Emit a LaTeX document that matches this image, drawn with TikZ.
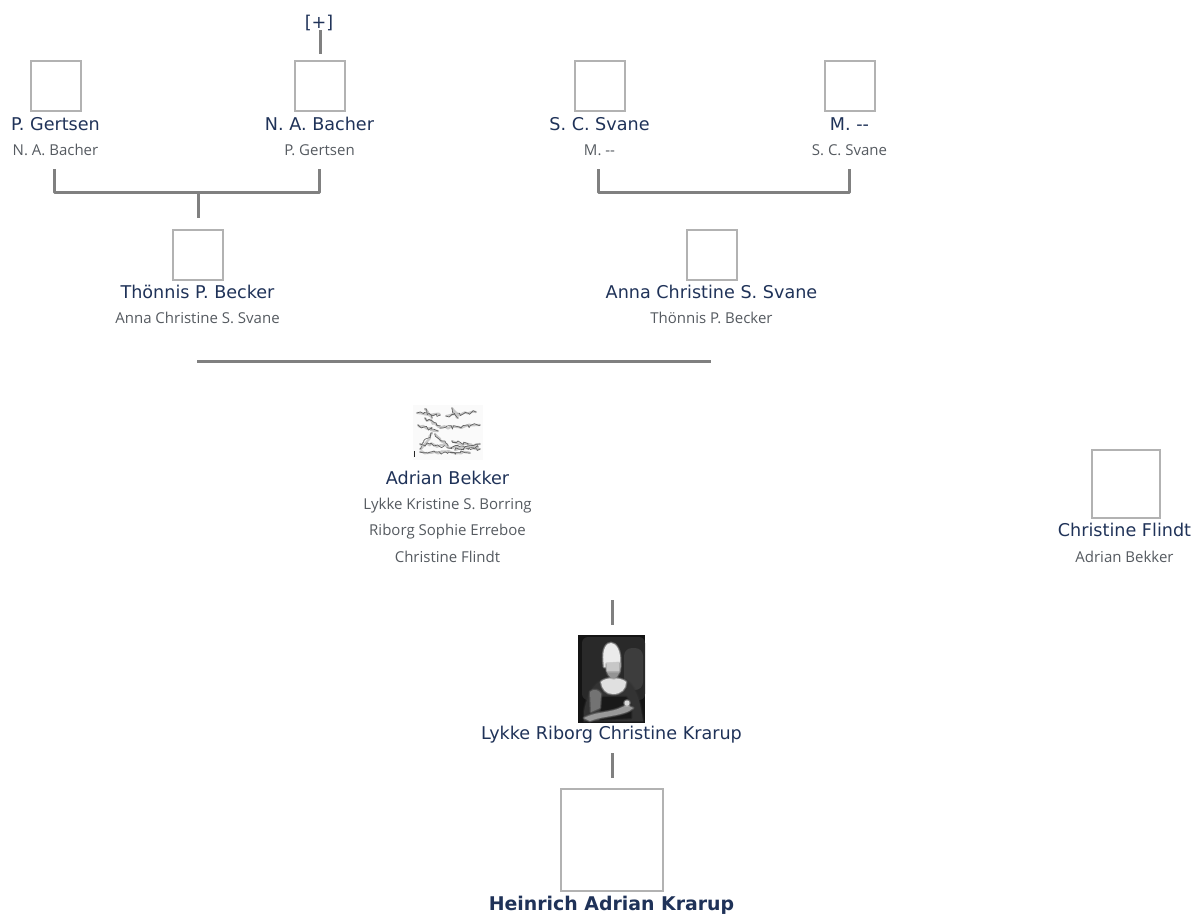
\documentclass[tikz,border=0pt]{standalone}
\usepackage{fontspec}
\setmainfont{DejaVu Sans}
\newfontfamily\smallfont{Open Sans}
\usetikzlibrary{decorations.pathmorphing}
\definecolor{namecol}{HTML}{1F3258}
\definecolor{subcol}{HTML}{555A60}
\definecolor{boxcol}{HTML}{B2B2B2}
\definecolor{linecol}{HTML}{808080}
\tikzset{
 x=1pt,y=-1pt,
 photobox/.style={draw=boxcol,line width=2pt,fill=white,minimum width=#1,minimum height=#1,inner sep=0pt,outer sep=0pt},
 namelab/.style={text=namecol,font=\fontsize{17.6}{20}\selectfont,inner sep=0pt,anchor=base},
 sublab/.style={text=subcol,font=\smallfont\fontsize{15}{18}\selectfont,inner sep=0pt,anchor=base},
 boldlab/.style={text=namecol,font=\bfseries\fontsize{18.9}{22}\selectfont,inner sep=0pt,anchor=base},
 link/.style={draw=linecol,line width=3pt,line cap=butt,line join=round},
 soft/.style={fill=#1,preaction={draw=#1,draw opacity=.25,line width=3pt,line join=round},preaction={draw=#1,draw opacity=.35,line width=1.5pt,line join=round}},
 sigwide/.style={draw=black!22,line width=2.2pt,line cap=round,line join=round,decorate,decoration={random steps,segment length=3pt,amplitude=1.6pt}},
 signarrow/.style={draw=black!62,line width=.7pt,line cap=round,line join=round,decorate,decoration={random steps,segment length=2.5pt,amplitude=2pt}},
}
\begin{document}
\begin{tikzpicture}
\useasboundingbox (0,0) rectangle (1193,913);
% boxes
\node[photobox=50pt] (bgertsen) at (55.5,85.5) {};
\node[photobox=50pt] (bbacher) at (319.5,85.5) {};
\node[photobox=50pt] (bsvane) at (599.5,85.5) {};
\node[photobox=50pt] (bm) at (849.5,85.5) {};
\node[photobox=50pt] (bbecker) at (197.5,254.5) {};
\node[photobox=50pt] (banna) at (712.2,254.5) {};
\node[photobox=68pt] (bflindt) at (1125.5,484) {};
\node[photobox=102pt] (bheinrich) at (611.5,840) {};
% labels
\node[namelab] (plus) at (319,28) {[+]};
\node[namelab] (ngertsen) at (55.5,130) {P. Gertsen};
\node[sublab] (sgertsen) at (55.5,155.5) {N. A. Bacher};
\node[namelab] (nbacher) at (319.5,130) {N. A. Bacher};
\node[sublab] (sbacher) at (319.5,155.5) {P. Gertsen};
\node[namelab] (nsvane) at (599.5,130) {S. C. Svane};
\node[sublab] (ssvane) at (599.5,155.5) {M. {-}{-}};
\node[namelab] (nm) at (849.5,130) {M. {-}{-}};
\node[sublab] (sm) at (849.5,155.5) {S. C. Svane};
\node[namelab] (nbecker) at (197.5,298) {Thönnis P. Becker};
\node[sublab] (sbecker) at (197.5,323.5) {Anna Christine S. Svane};
\node[namelab] (nanna) at (711.5,298) {Anna Christine S. Svane};
\node[sublab] (sanna) at (711.5,323.5) {Thönnis P. Becker};
\node[namelab] (nadrian) at (447.5,484.3) {Adrian Bekker};
\node[sublab] (sadrian1) at (447.5,509) {Lykke Kristine S. Borring};
\node[sublab] (sadrian2) at (447.5,535.5) {Riborg Sophie Erreboe};
\node[sublab] (sadrian3) at (447.5,562) {Christine Flindt};
\node[namelab] (nflindt) at (1124.5,536) {Christine Flindt};
\node[sublab] (sflindt) at (1124.5,562) {Adrian Bekker};
\node[namelab] (nlykke) at (611.5,739) {Lykke Riborg Christine Krarup};
\node[boldlab] (nheinrich) at (611.5,910.5) {Heinrich Adrian Krarup};
% signature image
\pgfmathsetseed{11}
\fill[black!2] (413,405) rectangle (483,460);
\foreach \a/\b/\e/\g in {417/413/440/415,425/409/432/418,446/416/476/412,452/408/458/418,418/425/438/431,425/418/440/426,440/428/480/425,432/433/420/449,420/444/480/449,420/452/470/453,435/434/448/446,452/441/478/447,455/450/480/444}{
  \draw[sigwide] (\a,\b) -- (\e,\g);
  \draw[signarrow] (\a,\b) -- (\e,\g);
}
\draw[black!85,line width=.9pt] (414,451) -- (414,457);
% portrait image
\fill[black!92] (578,635) rectangle (645,723);
\fill[black!84,rounded corners=6pt] (582,637) rectangle (645,700);
\fill[black!76,rounded corners=8pt] (624,648) rectangle (643,690);
\path[soft=black!80] (584,712) .. controls (587,694) and (594,684) .. (602,680) -- (625,680) .. controls (633,684) and (639,696) .. (641,710) -- (643,721) -- (584,721) -- cycle;
\path[soft=black!90] (602,697) -- (626,697) -- (631,706) -- (631,718) -- (600,720) -- cycle;
\path[soft=black!55] (590,692) .. controls (594,688) and (599,690) .. (601,694) -- (600,708) -- (591,712) -- cycle;
\path[soft=black!40] (584,718) .. controls (596,712) and (606,713) .. (618,709) -- (627,705) -- (633,708) .. controls (626,716) and (600,716) .. (590,721) -- cycle;
\path[soft=black!15] (627,703) circle[radius=2.5];
\path[soft=black!12] (601,682) .. controls (605,677) and (621,677) .. (626,682) .. controls (626,689) and (621,694) .. (613,694) .. controls (606,694) and (602,689) .. (601,682) -- cycle;
\path[soft=black!8] (603.5,662) .. controls (602,648) and (607,643) .. (611,643) .. controls (616,643) and (621,651) .. (620,662) -- (620,667) -- (604,667) -- cycle;
\path[soft=black!42] (606,664) .. controls (606,674) and (610,678.5) .. (614,678.5) .. controls (619,677) and (621,670) .. (620,663) -- cycle;
\path[soft=black!22] (607,663) rectangle (619,671);
% connector anchors
\coordinate (c1) at (320,54);
\coordinate (c2) at (320,30);
\coordinate (g1) at (54,169); \coordinate (g2) at (54,192); \coordinate (g3) at (319,192); \coordinate (g4) at (319,169);
\coordinate (g5) at (198,192); \coordinate (g6) at (198,218);
\coordinate (s1) at (598,169); \coordinate (s2) at (598,192); \coordinate (s3) at (849,192); \coordinate (s4) at (849,169);
\coordinate (h1) at (197,361); \coordinate (h2) at (711,361);
\coordinate (v1) at (612,600); \coordinate (v2) at (612,625);
\coordinate (v3) at (612,753); \coordinate (v4) at (612,778);
\draw[link] (c2) -- (c1);
\draw[link] (g1) -- (g2) -- (g3) -- (g4);
\draw[link] (g5) -- (g6);
\draw[link] (s1) -- (s2) -- (s3) -- (s4);
\draw[link] (h1) -- (h2);
\draw[link] (v1) -- (v2);
\draw[link] (v3) -- (v4);
\end{tikzpicture}
\end{document}
